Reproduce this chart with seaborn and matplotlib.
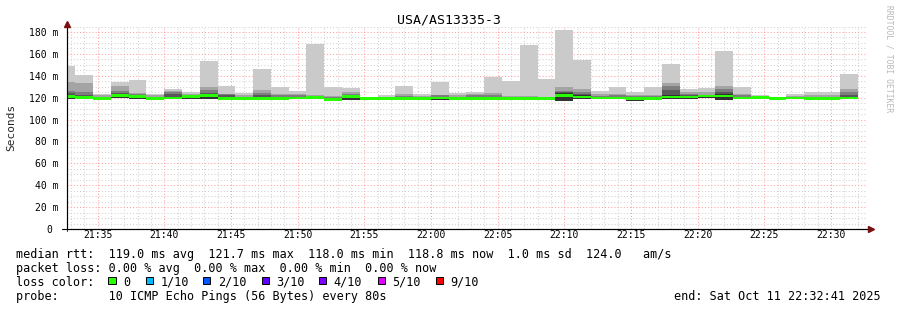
import numpy as np
import pandas as pd
import matplotlib
matplotlib.use("Agg")
import matplotlib.pyplot as plt
import matplotlib.dates as mdates
from matplotlib.patches import Rectangle
import seaborn as sns

# ---------------- data ----------------
title = "USA/AS13335-3"
bin_start = "2025-10-11 21:32:00"   # first 80 s step (partially visible)
step_seconds = 80
view_start = "2025-10-11 21:32:41"
view_end = "2025-10-11 22:32:41"

# sorted-ping levels per 80 s step, in ms
ping_max = [149.0, 140.8, 123.0, 134.4, 136.2, 123.4, 128.0, 125.2, 153.6, 130.7,
            124.3, 146.3, 130.0, 126.1, 169.1, 130.0, 129.0, 121.0, 122.5, 131.0,
            123.7, 134.7, 124.6, 125.5, 139.2, 135.6, 168.2, 137.1, 181.9, 154.5,
            126.1, 130.0, 125.2, 130.0, 150.8, 128.0, 128.6, 162.7, 130.0, 122.8,
            120.4, 123.4, 125.0, 125.0, 141.7]
ping_p9 = [134.4, 133.5, 122.0, 130.7, 124.6, 122.0, 125.8, 123.5, 130.0, 123.5,
           122.2, 127.0, 123.7, 123.0, 122.5, 121.9, 125.0, 120.5, 121.0, 123.0,
           121.5, 122.8, 122.0, 123.7, 124.6, 121.9, 121.6, 121.0, 130.0, 128.3,
           123.1, 123.7, 122.8, 122.8, 133.8, 125.2, 125.0, 130.7, 123.7, 121.5,
           120.2, 121.8, 122.0, 122.0, 128.3]
ping_p8 = [126.0, 125.0, 121.0, 125.8, 123.0, 121.0, 125.0, 122.5, 127.0, 123.0,
           121.0, 124.6, 122.0, 122.0, 121.5, 121.0, 123.5, 120.0, 120.5, 121.5,
           121.0, 122.0, 121.0, 122.0, 122.2, 121.0, 121.0, 120.5, 126.1, 125.0,
           121.5, 122.0, 121.5, 121.5, 130.7, 123.1, 122.8, 127.7, 122.0, 121.0,
           120.0, 121.0, 121.0, 121.0, 125.0]
ping_p7 = [124.0, 122.0, 120.5, 124.0, 122.0, 120.5, 123.0, 122.0, 124.0, 122.8,
           120.5, 122.0, 121.0, 121.0, 121.0, 120.0, 122.5, 119.8, 120.0, 120.5,
           120.5, 121.0, 120.5, 121.0, 121.0, 120.5, 120.5, 120.0, 125.0, 123.0,
           121.0, 121.0, 121.0, 121.0, 126.8, 122.0, 122.5, 125.0, 121.0, 120.8,
           119.8, 120.5, 120.5, 120.5, 122.8]
ping_p6 = [122.0, 121.0, 120.0, 123.0, 121.5, 120.0, 121.0, 121.5, 123.5, 121.0,
           120.0, 120.5, 120.0, 120.5, 120.5, 119.5, 122.0, 119.5, 119.8, 120.0,
           120.0, 120.5, 120.0, 120.0, 120.0, 120.0, 120.0, 119.8, 124.0, 122.0,
           120.5, 120.5, 120.0, 120.5, 122.0, 121.5, 122.0, 123.0, 120.5, 120.5,
           119.6, 120.0, 120.0, 120.0, 121.0]
ping_min = [119.0, 118.5, 118.5, 119.5, 119.0, 118.5, 118.8, 118.5, 118.5, 118.5,
            118.5, 118.3, 118.5, 118.8, 118.8, 117.3, 118.3, 118.3, 118.5, 118.3,
            118.8, 118.3, 118.5, 118.5, 118.3, 118.3, 118.3, 118.3, 117.3, 118.5,
            118.8, 118.8, 117.3, 118.5, 119.0, 119.0, 119.5, 118.0, 118.8, 119.0,
            118.8, 118.8, 118.5, 118.8, 118.8]
median_rtt = [121.2, 120.0, 119.5, 121.7, 120.8, 119.0, 119.8, 121.0, 121.7, 119.2,
              119.2, 119.0, 119.2, 119.6, 120.0, 118.3, 121.3, 119.0, 119.3, 119.0,
              119.5, 119.6, 119.3, 119.3, 119.0, 119.0, 119.0, 119.0, 121.7, 120.5,
              119.6, 119.6, 119.0, 119.3, 120.5, 120.5, 121.5, 121.5, 119.6, 120.0,
              119.3, 119.6, 119.3, 119.5, 119.6]

y_ticks = [0, 20, 40, 60, 80, 100, 120, 140, 160, 180]
y_max = 185

legend_rows = [
    "median rtt:  119.0 ms avg  121.7 ms max  118.0 ms min  118.8 ms now  1.0 ms sd  124.0   am/s",
    "packet loss: 0.00 % avg  0.00 % max  0.00 % min  0.00 % now",
    "loss color:",
    "probe:       10 ICMP Echo Pings (56 Bytes) every 80s",
]
loss_labels = ["0", "1/10", "2/10", "3/10", "4/10", "5/10", "9/10"]
loss_colors = ["#26ff00", "#00b8ff", "#0059ff", "#5e00ff", "#7e00ff", "#dd00ff", "#ff0000"]
end_text = "end: Sat Oct 11 22:32:41 2025"
watermark = "RRDTOOL / TOBI OETIKER"
smoke_colors = ["#cacaca", "#a4a4a4", "#7e7e7e", "#585858", "#323232"]

# ---------------- figure ----------------
sns.set_theme(style="white")
plt.rcParams["font.family"] = ["DejaVu Sans Mono", "DejaVu Sans"]

W, H = 897, 310
fig = plt.figure(figsize=(W / 100, H / 100), dpi=100)
fig.patch.set_facecolor("white")

ax_left, ax_right = 66.7, 866.7
ax_bottom_px, px_per_ms = 229.0, 1.0944
ax_top_px = ax_bottom_px - y_max * px_per_ms
ax = fig.add_axes([ax_left / W, 1 - ax_bottom_px / H,
                   (ax_right - ax_left) / W, (ax_bottom_px - ax_top_px) / H])
ax.set_facecolor("white")

starts = pd.date_range(bin_start, periods=len(ping_max), freq=f"{step_seconds}s")
x = mdates.date2num(starts.to_pydatetime())
width = step_seconds / 86400.0

df = pd.DataFrame({"x": x, "min": ping_min, "p6": ping_p6, "p7": ping_p7,
                   "p8": ping_p8, "p9": ping_p9, "max": ping_max, "median": median_rtt})

# smoke bands (outer light -> inner dark)
for col, c in zip(["max", "p9", "p8", "p7", "p6"], smoke_colors):
    ax.bar(df["x"], df[col] - df["min"], bottom=df["min"], width=width,
           align="edge", color=c, linewidth=0, zorder=2)

# median band coloured by loss (all 0 loss)
sw = 1.25
ax.bar(df["x"], 2 * sw, bottom=df["median"] - sw, width=width, align="edge",
       color=loss_colors[0], linewidth=0, zorder=3)

# axes limits / ticks
ax.set_xlim(mdates.date2num(pd.Timestamp(view_start)), mdates.date2num(pd.Timestamp(view_end)))
ax.set_ylim(0, y_max)
ax.xaxis.set_major_locator(mdates.MinuteLocator(byminute=range(0, 60, 5)))
ax.xaxis.set_minor_locator(mdates.MinuteLocator())
ax.xaxis.set_major_formatter(mdates.DateFormatter("%H:%M"))
ax.set_yticks(y_ticks)
ax.set_yticks(np.arange(0, y_max + 0.1, 5), minor=True)
ax.set_yticklabels(["0 " if v == 0 else f"{v} m" for v in y_ticks])

ax.grid(True, which="minor", color="#d2d2d2", linestyle=(0, (1, 2)), linewidth=0.75, zorder=0)
ax.grid(True, which="major", color="#ffa0a0", linestyle=(0, (1, 2)), linewidth=0.75, zorder=0)
ax.set_axisbelow(True)

ax.tick_params(axis="both", which="major", labelsize=7, colors="black",
               direction="out", length=2.5, width=0.7)
ax.tick_params(axis="y", which="major", pad=3.5)
ax.tick_params(axis="x", which="major", length=2.0, pad=-1.0)
ax.tick_params(axis="both", which="minor", length=0)

for s in ["top", "right"]:
    ax.spines[s].set_visible(False)
for s in ["left", "bottom"]:
    ax.spines[s].set_color("black")
    ax.spines[s].set_linewidth(0.8)
    ax.spines[s].set_zorder(5)

# axis extensions and arrows
ax.plot([-0.006, 1.003], [0, 0], transform=ax.transAxes, color="black", lw=0.8, clip_on=False, zorder=5)
ax.plot([0, 0], [-0.012, 1.0], transform=ax.transAxes, color="#404040", lw=0.8, clip_on=False, zorder=5)
ax.plot([0], [1.012], marker="^", ms=5, color="#7a1010", transform=ax.transAxes, clip_on=False, zorder=6)
ax.plot([1.0055], [0], marker=">", ms=5, color="#7a1010", transform=ax.transAxes, clip_on=False, zorder=6)

ax.set_ylabel("Seconds", fontsize=8)
ax.yaxis.set_label_coords(-(ax_left - 16.0) / (ax_right - ax_left), 0.5)

def ftext(px, py, s, **kw):
    fig.text(px / W, 1 - py / H, s, **kw)

ftext(448.5, 20, title, ha="center", va="center", fontsize=9.5, color="black")
ftext(889, 59, watermark, ha="center", va="center", rotation=-90, fontsize=5.8, color="#b8b8b8")

baselines = [257.6, 271.8, 285.9, 300.0]
for row, yb in zip(legend_rows, baselines):
    ftext(16, yb, row, ha="left", va="baseline", fontsize=8.5, color="black")
ftext(881, baselines[3], end_text, ha="right", va="baseline", fontsize=8.5, color="black")

box_left = [108.3, 145.7, 203.0, 261.7, 319.0, 377.7, 435.7]
for bl, lab, col in zip(box_left, loss_labels, loss_colors):
    fig.patches.append(Rectangle((bl / W, 1 - 284.3 / H), 7.3 / W, 7.3 / H,
                                 transform=fig.transFigure, facecolor=col,
                                 edgecolor="black", linewidth=0.7))
    ftext(bl + 14.7, baselines[2], lab, ha="left", va="baseline", fontsize=8.5, color="black")

fig.savefig("out.png", dpi=100, facecolor="white")
